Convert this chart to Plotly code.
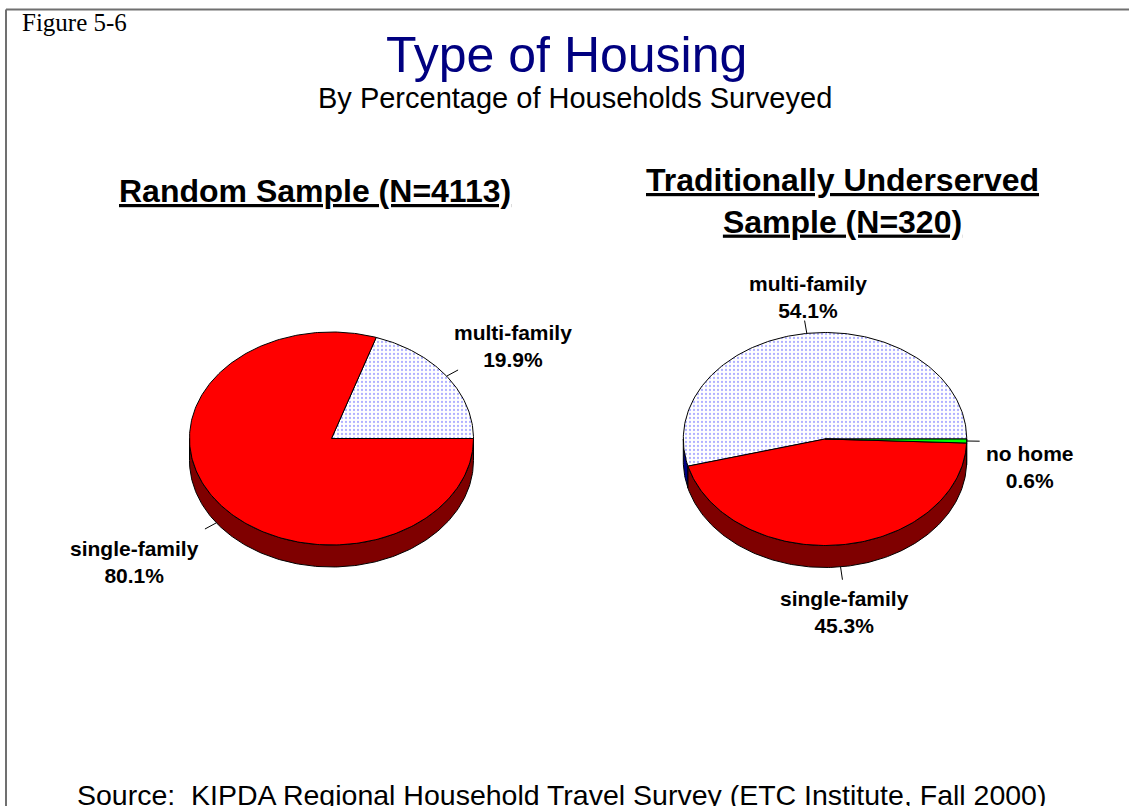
import numpy as np
import plotly.graph_objects as go

# ---------------- data ----------------
figure_label = "Figure 5-6"
title_text = "Type of Housing"
subtitle_text = "By Percentage of Households Surveyed"
source_text = "Source:  KIPDA Regional Household Travel Survey (ETC Institute, Fall 2000)"

pie1_title = "Random Sample (N=4113)"
pie1_categories = ["multi-family", "single-family"]
pie1_values = [19.9, 80.1]

pie2_title = "Traditionally Underserved<br>Sample (N=320)"
pie2_categories = ["multi-family", "single-family", "no home"]
pie2_values = [54.1, 45.3, 0.6]

# ---------------- styles / layout (screen pixels) ----------------
W, H = 1129, 806
SANS = "Liberation Sans, Arial, sans-serif"
SERIF = "Liberation Serif, Times New Roman, serif"

top_colors = {"multi-family": "white", "single-family": "#FF0000", "no home": "#00FF00"}
side_colors = {"multi-family": "#000080", "single-family": "#7F0000", "no home": "#007F00"}

pies = [
    dict(title=pie1_title, cats=pie1_categories, vals=pie1_values,
         cx=331.5, cy=438.5, rx=142.0, ry=106.5, depth=22,
         title_xy=(314.5, 191), label_xy=[(513, 346), (134, 562)]),
    dict(title=pie2_title, cats=pie2_categories, vals=pie2_values,
         cx=825.0, cy=439.0, rx=141.7, ry=106.5, depth=22,
         title_xy=(842, 201), label_xy=[(808, 297), (844, 612), (1030, 467)]),
]
LEADER = 13

fig = go.Figure()


def arc(p, a0, a1, dy=0.0):
    n = max(2, int(abs(a1 - a0) / 1.0) + 2)
    t = np.radians(np.linspace(a0, a1, n))
    return p["cx"] + p["rx"] * np.cos(t), p["cy"] - p["ry"] * np.sin(t) + dy


def add_poly(xs, ys, color, pattern=False):
    kw = {}
    if pattern:
        kw["fillpattern"] = dict(shape=".", fgcolor="#6060ff", bgcolor="white",
                                 size=4, solidity=0.25)
    fig.add_trace(go.Scatter(
        x=list(xs), y=list(ys), mode="lines", fill="toself", fillcolor=color,
        line=dict(color="black", width=1), hoverinfo="skip", showlegend=False, **kw))


for p in pies:
    total = sum(p["vals"])
    cum = np.concatenate([[0], np.cumsum(p["vals"])]) / total * 360.0
    slices = list(zip(p["cats"], cum[:-1], cum[1:], p["vals"]))
    # side walls (front half: 180..360 degrees)
    for cat, a0, a1, v in slices:
        lo, hi = max(a0, 180.0), min(a1, 360.0)
        if hi <= lo:
            continue
        tx, ty = arc(p, lo, hi)
        bx, by = arc(p, hi, lo, dy=p["depth"])
        add_poly(np.concatenate([tx, bx, tx[:1]]), np.concatenate([ty, by, ty[:1]]),
                 side_colors[cat])
    # top faces
    for cat, a0, a1, v in slices:
        ax, ay = arc(p, a0, a1)
        xs = np.concatenate([[p["cx"]], ax, [p["cx"]]])
        ys = np.concatenate([[p["cy"]], ay, [p["cy"]]])
        add_poly(xs, ys, top_colors[cat], pattern=(cat == "multi-family"))
    # leader lines and labels
    for (cat, a0, a1, v), (lx, ly) in zip(slices, p["label_xy"]):
        m = np.radians((a0 + a1) / 2)
        sx = p["cx"] + p["rx"] * np.cos(m)
        sy = p["cy"] - p["ry"] * np.sin(m)
        if np.sin(m) < -0.05:
            sy += p["depth"]
        dx, dyv = np.cos(m), -np.sin(m) * p["ry"] / p["rx"]
        nrm = np.hypot(dx, dyv)
        ex, ey = sx + LEADER * dx / nrm, sy + LEADER * dyv / nrm
        fig.add_trace(go.Scatter(x=[sx, ex], y=[sy, ey], mode="lines",
                                 line=dict(color="black", width=1),
                                 hoverinfo="skip", showlegend=False))
        fig.add_annotation(x=lx, y=ly, xref="x", yref="y", showarrow=False,
                           text=f"{cat}<br>{v:.1f}%", align="center",
                           xanchor="center", yanchor="middle",
                           font=dict(family=SANS, size=21, color="black", weight="bold"))
    # pie title
    fig.add_annotation(x=p["title_xy"][0], y=p["title_xy"][1], xref="x", yref="y",
                       showarrow=False, text=p["title"], align="center",
                       xanchor="center", yanchor="middle",
                       font=dict(family=SANS, size=32, color="black", weight="bold",
                                 lineposition="under"))

# headings
fig.add_annotation(x=566.5, y=55, xref="x", yref="y", showarrow=False, text=title_text,
                   xanchor="center", yanchor="middle",
                   font=dict(family=SANS, size=50, color="#000080"))
fig.add_annotation(x=574.5, y=98, xref="x", yref="y", showarrow=False, text=subtitle_text,
                   xanchor="center", yanchor="middle",
                   font=dict(family=SANS, size=29, color="black"))
fig.add_annotation(x=20, y=22, xref="x", yref="y", showarrow=False, text=figure_label,
                   xanchor="left", yanchor="middle",
                   font=dict(family=SERIF, size=25, color="black"))
fig.add_annotation(x=561.5, y=795, xref="x", yref="y", showarrow=False, text=source_text,
                   xanchor="center", yanchor="middle",
                   font=dict(family=SANS, size=28.5, color="black"))

# frame
fig.add_shape(type="line", x0=6, y0=9.5, x1=W, y1=9.5, xref="x", yref="y",
              line=dict(color="#707070", width=2), layer="below")
fig.add_shape(type="line", x0=6, y0=9.5, x1=6, y1=H, xref="x", yref="y",
              line=dict(color="#707070", width=2), layer="below")

fig.update_layout(
    width=W, height=H, margin=dict(l=0, r=0, t=0, b=0),
    paper_bgcolor="white", plot_bgcolor="white", showlegend=False,
    xaxis=dict(range=[0, W], visible=False, fixedrange=True),
    yaxis=dict(range=[H, 0], visible=False, fixedrange=True),
)

fig.write_html("out.html", config={"displayModeBar": False},
               post_script="document.body.style.margin='0';document.body.style.overflow='hidden';")
